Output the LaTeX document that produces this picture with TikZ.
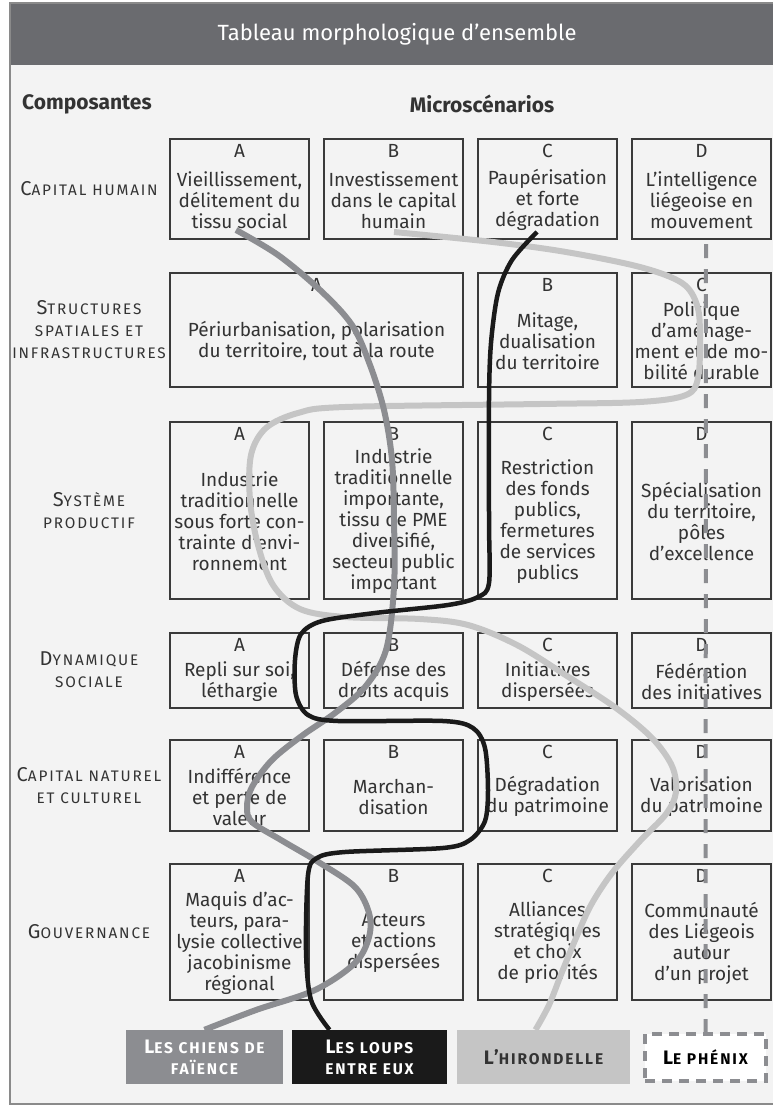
\documentclass[tikz,border=0pt]{standalone}
\usepackage{fontspec}
\setmainfont{Fira Sans}
\newfontfamily\capsfont[LetterSpace=12]{Fira Sans}
\usepackage{tikz}
\usetikzlibrary{positioning}
\definecolor{header}{HTML}{6A6B6F}
\definecolor{paper}{HTML}{F3F3F3}
\definecolor{frame}{HTML}{8A8A8A}
\definecolor{boxline}{HTML}{3A3A3A}
\definecolor{ink}{HTML}{333333}
\definecolor{chienc}{HTML}{8C8D91}
\definecolor{loupc}{HTML}{1A1A1A}
\definecolor{hirc}{HTML}{C5C5C5}
\definecolor{phxc}{HTML}{8C8D91}
\newcommand\smc[2]{{\fontsize{20}{22}\selectfont #1}{\fontsize{15.3}{22}\selectfont #2}}
\newcommand\lsc[2]{{\fontsize{19.5}{21}\selectfont #1}{\fontsize{15.5}{21}\selectfont #2}}
\newcommand\mcell[6]{%
  \node[cell, minimum height=#4] (#1) at (#2,#3) {};
  \node[letter] (#1-l) at ([yshift=-13pt]#1.north) {#5};
  \node[txt] (#1-t) at ([yshift=-11pt]#1.center) {#6};}

\begin{document}
\begin{tikzpicture}[x=1pt, y=-1pt,
    cell/.style={draw=boxline, line width=1.3pt, minimum width=139pt, inner sep=0pt},
    letter/.style={font=\fontsize{19}{21}\selectfont, text=ink, inner sep=0pt},
    txt/.style={font=\fontsize{19}{21}\selectfont, text=ink, align=center, inner sep=0pt},
    rowlab/.style={font=\capsfont\fontsize{18}{22}\selectfont, text=ink, align=center, inner sep=0pt},
    head/.style={font=\bfseries\fontsize{21}{24}\selectfont, text=ink, inner sep=0pt},
    legend/.style={minimum height=54pt, inner sep=0pt, align=center, font=\capsfont\bfseries\fontsize{16}{21}\selectfont},
    route/.style={line width=6pt},
    phx/.style={draw=phxc, line width=4pt, dash pattern=on 14pt off 11pt}]
                      \useasboundingbox (0,0) rectangle (773,1105);
                      \clip (0,0) rectangle (773,1105);
                      \fill[paper] (10,3) rectangle (790,1104);
                      \fill[header] (10,3) rectangle (790,65);
                      \draw[frame, line width=1.5pt] (790,1104) -- (10,1104) -- (10,3) -- (790,3);
                      \node[font=\fontsize{22}{24}\selectfont, text=white] (title) at (397,34) {Tableau morphologique d’ensemble};
                      \node[head, anchor=west] (comp) at (22,104) {Composantes};
                      \node[head] (micro) at (482,104) {Microscénarios};

                      \node[rowlab] (lhum) at (89,189) {\smc{C}{APITAL HUMAIN}};
                      \node[rowlab] (lspa) at (89,330) {\smc{S}{TRUCTURES}\\\smc{}{SPATIALES ET}\\\smc{}{INFRASTRUCTURES}};
                      \node[rowlab] (lprod) at (89,511) {\smc{S}{YSTÈME}\\\smc{}{PRODUCTIF}};
                      \node[rowlab] (ldyn) at (89,670) {\smc{D}{YNAMIQUE}\\\smc{}{SOCIALE}};
                      \node[rowlab] (lnat) at (89,786) {\smc{C}{APITAL NATUREL}\\\smc{}{ET CULTUREL}};
                      \node[rowlab] (lgov) at (89,932) {\smc{G}{OUVERNANCE}};

                      \mcell{humA}{239.5}{189}{100}{A}{Vieillissement,\\délitement du\\tissu social}
                      \mcell{humB}{393.5}{189}{100}{B}{Investissement\\dans le capital\\humain}
                      \mcell{humC}{547.5}{189}{100}{C}{Paupérisation\\et forte\\dégradation}
                      \mcell{humD}{701.5}{189}{100}{D}{L’intelligence\\liégeoise en\\mouvement}

                      \node[cell, minimum width=293pt, minimum height=114] (spaA) at (316.5,330) {};
                      \node[letter] (spaA-l) at ([yshift=-13pt]spaA.north) {A};
                      \node[txt] (spaA-t) at ([yshift=-11pt]spaA.center) {Périurbanisation, polarisation\\du territoire, tout à la route};
                      \mcell{spaB}{547.5}{330}{114}{B}{Mitage,\\dualisation\\du territoire}
                      \mcell{spaC}{701.5}{330}{114}{C}{Politique\\d’aménage-\\ment et de mo-\\bilité durable}

                      \mcell{prodA}{239.5}{510.5}{177}{A}{Industrie\\traditionnelle\\sous forte con-\\trainte d’envi-\\ronnement}
                      \mcell{prodB}{393.5}{510.5}{177}{B}{Industrie\\traditionnelle\\importante,\\tissu de PME\\diversifié,\\secteur public\\important}
                      \mcell{prodC}{547.5}{510.5}{177}{C}{Restriction\\des fonds\\publics,\\fermetures\\de services\\publics}
                      \mcell{prodD}{701.5}{510.5}{177}{D}{Spécialisation\\du territoire,\\pôles\\d’excellence}

                      \mcell{dynA}{239.5}{670.5}{75}{A}{Repli sur soi,\\léthargie}
                      \mcell{dynB}{393.5}{670.5}{75}{B}{Défense des\\droits acquis}
                      \mcell{dynC}{547.5}{670.5}{75}{C}{Initiatives\\dispersées}
                      \mcell{dynD}{701.5}{670.5}{75}{D}{Fédération\\des initiatives}

                      \mcell{natA}{239.5}{785.5}{91}{A}{Indifférence\\et perte de\\valeur}
                      \mcell{natB}{393.5}{785.5}{91}{B}{Marchan-\\disation}
                      \mcell{natC}{547.5}{785.5}{91}{C}{Dégradation\\du patrimoine}
                      \mcell{natD}{701.5}{785.5}{91}{D}{Valorisation\\du patrimoine}

                      \mcell{govA}{239.5}{932}{136}{A}{Maquis d’ac-\\teurs, para-\\lysie collective\\jacobinisme\\régional}
                      \mcell{govB}{393.5}{932}{136}{B}{Acteurs\\et actions\\dispersées}
                      \mcell{govC}{547.5}{932}{136}{C}{Alliances\\stratégiques\\et choix\\de priorités}
                      \mcell{govD}{701.5}{932}{136}{D}{Communauté\\des Liégeois\\autour\\d’un projet}

                      \node[legend, fill=chienc, minimum width=157pt, text=white] (chiens) at (204.5,1057) {\lsc{L}{ES CHIENS DE}\\\lsc{}{FAÏENCE}};
                      \node[legend, fill=loupc, minimum width=155pt, text=white] (loups) at (369.5,1057) {\lsc{L}{ES LOUPS}\\\lsc{}{ENTRE EUX}};
                      \node[legend, fill=hirc, minimum width=173pt, text=ink] (hirondelle) at (543.5,1057) {\lsc{L’}{HIRONDELLE}};
                      \node[legend, fill=white, minimum width=121pt, minimum height=47pt, text=black, phx, dash pattern=on 10pt off 7pt] (phenix) at (705.5,1057.5) {\lsc{L}{E PHÉNIX}};

                      \coordinate (sHir) at (394,232);
                      \coordinate (sChiens) at (236,230);
                      \coordinate (sLoups) at (537,232);
                      \coordinate (sPhenix) at (706,244);
                      \draw[route, hirc] plot[smooth, tension=0.55] coordinates {(sHir) (493,242) (566,252) (640,267) (682,283) (697,305) (700,335) (698,378) (686,395) (640,402) (540,404) (345,407) (298,413) (266,428) (251,455) (250,500) (258,545) (273,585) (300,609) (345,617) (420,619) (468,625) (517,645) (567,676) (616,708) (652,738) (672,766) (676,792) (666,814) (640,841) (612,873) (591,905) (576,938) (562,972) (549,1005) ([xshift=-8pt]hirondelle.north)};
                      \draw[route, chienc] plot[smooth, tension=0.55] coordinates {(sChiens) (278,255) (320,290) (352,325) (370,365) (384,410) (392,460) (394,520) (394,587) (386,650) (365,687) (335,713) (303,735) (272,760) (252,787) (247,807) (252,822) (281,840) (320,863) (355,887) (369,913) (369,937) (355,963) (315,990) (256,1010) (chiens.north)};
                      \draw[route, loupc, line width=4.5pt] plot[smooth, tension=0.5] coordinates {(sLoups) (512,260) (498,293) (491,343) (489,400) (489,520) (489,583) (478,597) (448,605) (375,613) (322,621) (301,634) (295,660) (296,695) (308,715) (338,721) (443,721) (473,728) (485,748) (488,790) (485,821) (470,840) (443,848) (345,852) (317,858) (308,875) (306,950) (311,1000) ([xshift=-40pt]loups.north)};
                      \draw[phx] (sPhenix) -- (phenix.north);
                  \end{tikzpicture}
\end{document}
